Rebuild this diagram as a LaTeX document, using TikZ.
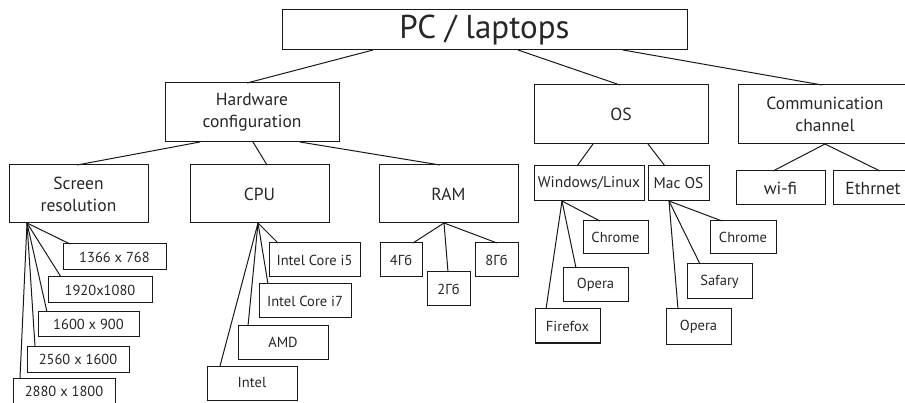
\documentclass[tikz,border=0pt]{standalone}
\usepackage{fontspec}
\setmainfont{PT Sans}
\tikzset{
  box/.style={draw=black!90, line width=1pt, inner sep=0pt, outer sep=0pt,
    align=center, text=black!85, font=\fontsize{17.5}{22}\selectfont},
  smallbox/.style={box, font=\fontsize{14.5}{17}\selectfont},
  link/.style={draw=black!90, line width=1pt}
}
\begin{document}
\begin{tikzpicture}[x=1pt,y=-1pt]
        \useasboundingbox (0,0) rectangle (905,403);
        \clip (0,0) rectangle (905,403);

        \node [box, minimum width=405, minimum height=40, font=\fontsize{33}{36}\selectfont] (pc) at (484.5,30) {PC / laptops};

        \node [box, minimum width=174, minimum height=59] (hw) at (252,112.5) {Hardware\\configuration};
        \node [box, minimum width=174, minimum height=59] (os) at (621,114.5) {OS};
        \node [box, minimum width=174, minimum height=59] (comm) at (825,114.5) {Communication\\channel};

        \draw [link] ([xshift=-111.5]pc.south) -- ([xshift=-5]hw.north);
        \draw [link] ([xshift=33.5]pc.south) -- ([xshift=-1]os.north);
        \draw [link] ([xshift=138.5]pc.south) -- ([xshift=-3]comm.north);

        \node [box, minimum width=139, minimum height=58] (scr) at (78.5,194) {Screen\\resolution};
        \node [box, minimum width=139, minimum height=58] (cpu) at (259.5,194) {CPU};
        \node [box, minimum width=139, minimum height=58] (ram) at (448.5,194) {RAM};

        \draw [link] ([xshift=-52]hw.south) -- ([xshift=-1.5]scr.north);
        \draw [link] ([xshift=1]hw.south) -- ([xshift=7.5]cpu.north);
        \draw [link] ([xshift=48]hw.south) -- ([xshift=-8.5]ram.north);

        \node [smallbox, minimum width=110, minimum height=35, font=\fontsize{15.5}{18}\selectfont] (win) at (589,183.5) {Windows/Linux};
        \node [smallbox, minimum width=61, minimum height=35, font=\fontsize{15.5}{18}\selectfont] (mac) at (678.5,183.5) {Mac OS};

        \draw [link] ([xshift=-28]os.south) -- ([xshift=-12]win.north);
        \draw [link] ([xshift=27]os.south) -- ([xshift=-13.5]mac.north);

        \node [box, minimum width=89, minimum height=34] (wifi) at (780.5,188) {wi-fi};
        \node [box, minimum width=80, minimum height=34] (eth) at (873,188) {Ethrnet};

        \draw [link] (comm.south) -- ([xshift=-7.5]wifi.north);
        \draw [link] (comm.south) -- ([xshift=7]eth.north);

        \node [smallbox, minimum width=103, minimum height=26] (r1) at (114.5,257) {1366 x 768};
        \node [smallbox, minimum width=104, minimum height=26] (r2) at (100,290) {1920x1080};
        \node [smallbox, minimum width=101, minimum height=25] (r3) at (88.5,324.5) {1600 x 900};
        \node [smallbox, minimum width=102, minimum height=26] (r4) at (78,359) {2560 x 1600};
        \node [smallbox, minimum width=102, minimum height=26] (r5) at (64,391) {2880 x 1800};

        \draw [link] ([xshift=-51.5]scr.south) -- ([xshift=-44.5]r1.north);
        \draw [link] ([xshift=-51.5]scr.south) -- ([xshift=-39]r2.north);
        \draw [link] ([xshift=-51.5]scr.south) -- ([xshift=-41.5]r3.north);
        \draw [link] ([xshift=-51.5]scr.south) -- ([xshift=-43]r4.north);
        \draw [link] ([xshift=-51.5]scr.south) -- ([xshift=-44]r5.north);

        \node [smallbox, minimum width=91, minimum height=34] (i5) at (314.5,260) {Intel Core i5};
        \node [smallbox, minimum width=92, minimum height=34] (i7) at (305,301) {Intel Core i7};
        \node [smallbox, minimum width=90, minimum height=33] (amd) at (283,342.5) {AMD};
        \node [smallbox, minimum width=90, minimum height=34] (intel) at (252,383) {Intel};

        \draw [link] ([xshift=-1.5]cpu.south) -- ([xshift=-36.5]i5.north);
        \draw [link] ([xshift=-1.5]cpu.south) -- ([xshift=-37]i7.north);
        \draw [link] ([xshift=-1.5]cpu.south) -- ([xshift=-35]amd.north);
        \draw [link] ([xshift=-1.5]cpu.south) -- ([xshift=-32]intel.north);

        \node [smallbox, minimum width=42, minimum height=34] (g4) at (401,260) {4Гб};
        \node [smallbox, minimum width=43, minimum height=34] (g2) at (448.5,289) {2Гб};
        \node [smallbox, minimum width=43, minimum height=34] (g8) at (496.5,260) {8Гб};

        \draw [link] ([xshift=-4.5]ram.south) -- ([xshift=12]g4.north);
        \draw [link] ([xshift=-4.5]ram.south) -- ([xshift=-0.5]g2.north);
        \draw [link] ([xshift=-4.5]ram.south) -- ([xshift=0.5]g8.north);

        \node [smallbox, minimum width=65, minimum height=33] (wch) at (615.5,237.5) {Chrome};
        \node [smallbox, minimum width=65, minimum height=34] (wop) at (595.5,285) {Opera};
        \node [smallbox, minimum width=65, minimum height=34] (ff) at (567.5,326) {Firefox};

        \draw [link] ([xshift=-27]win.south) -- ([xshift=-15.5]wch.north);
        \draw [link] ([xshift=-27]win.south) -- ([xshift=-19.5]wop.north);
        \draw [link] ([xshift=-27]win.south) -- ([xshift=-21.5]ff.north);

        \node [smallbox, minimum width=66, minimum height=33] (mch) at (743,237.5) {Chrome};
        \node [smallbox, minimum width=65, minimum height=35] (saf) at (719.5,281.5) {Safary};
        \node [smallbox, minimum width=65, minimum height=35] (mop) at (698.5,326.5) {Opera};

        \draw [link] ([xshift=-9.5]mac.south) -- ([xshift=-21]mch.north);
        \draw [link] ([xshift=-9.5]mac.south) -- ([xshift=-19.5]saf.north);
        \draw [link] ([xshift=-9.5]mac.south) -- ([xshift=-20.5]mop.north);
      \end{tikzpicture}
\end{document}
